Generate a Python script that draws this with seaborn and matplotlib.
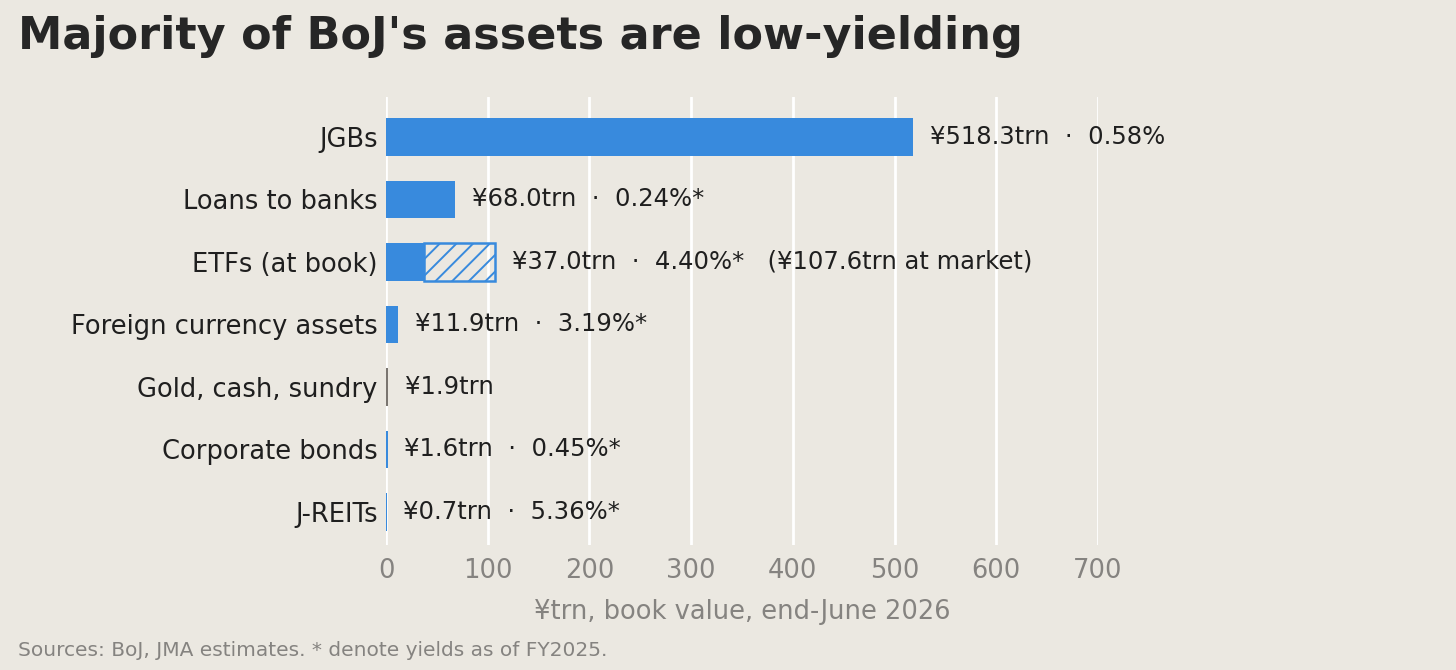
import matplotlib
matplotlib.use("Agg")
import matplotlib.pyplot as plt
import seaborn as sns
import pandas as pd

categories = ["JGBs", "Loans to banks", "ETFs (at book)", "Foreign currency assets",
              "Gold, cash, sundry", "Corporate bonds", "J-REITs"]
book_value = [518.3, 68.0, 37.0, 11.9, 1.9, 1.6, 0.7]
yields = ["0.58%", "0.24%*", "4.40%*", "3.19%*", None, "0.45%*", "5.36%*"]
etf_market = 107.6
x_ticks = [0, 100, 200, 300, 400, 500, 600, 700]

bg = "#EBE8E1"
blue = "#388ADD"
grey_bar = "#7A7570"
grey_txt = "#858380"

sns.set_theme(style="white", rc={"axes.facecolor": bg, "figure.facecolor": bg})
plt.rcParams["font.family"] = ["DejaVu Sans"]

df = pd.DataFrame({"cat": categories, "val": book_value})
colors = [grey_bar if c.startswith("Gold") else blue for c in categories]

fig = plt.figure(figsize=(14.56, 6.7), dpi=100)
ax = fig.add_axes([386 / 1456, 1 - 545 / 670, (1098 - 386) / 1456, (545 - 97) / 670])

sns.barplot(data=df, x="val", y="cat", hue="cat", palette=colors, legend=False,
            width=0.6, ax=ax, edgecolor="none", saturation=1, zorder=3)

# market-value extension of ETFs, hatched
etf_i = categories.index("ETFs (at book)")
plt.rcParams["hatch.color"] = blue
plt.rcParams["hatch.linewidth"] = 1.4
ax.barh(etf_i, etf_market - book_value[etf_i], left=book_value[etf_i], height=0.6,
        facecolor="none", edgecolor=blue, hatch="//", linewidth=1.8, zorder=3)

for i, (v, y) in enumerate(zip(book_value, yields)):
    label = f"¥{v:.1f}trn"
    if y:
        label += f"  ·  {y}"
    end = v
    if i == etf_i:
        label += f"   (¥{etf_market:.1f}trn at market)"
        end = etf_market
    ax.annotate(label, (end, i), xytext=(12, 0), textcoords="offset points",
                va="center", ha="left", fontsize=17.5, color="#1f1f1f",
                annotation_clip=False)

ax.set_xlim(0, 700)
ax.set_ylim(6.53, -0.64)
ax.set_xticks(x_ticks)
ax.tick_params(axis="x", length=0, labelsize=18.5, colors=grey_txt, pad=9)
ax.tick_params(axis="y", length=0, labelsize=18.5, labelcolor="#1f1f1f", pad=6)
ax.grid(axis="x", color="white", linewidth=2, zorder=0)
ax.set_axisbelow(True)
sns.despine(ax=ax, left=True, bottom=True)
ax.set_ylabel("")
ax.set_xlabel("¥trn, book value, end-June 2026", fontsize=18.5, color=grey_txt, labelpad=11)

fig.text(18 / 1456, 1 - 37 / 670, "Majority of BoJ's assets are low-yielding",
         fontsize=32, fontweight="bold", color="#262626", va="center", ha="left")
fig.text(18 / 1456, 1 - 650 / 670, "Sources: BoJ, JMA estimates. * denote yields as of FY2025.",
         fontsize=14.5, color=grey_txt, va="center", ha="left")

fig.savefig("out.png", dpi=100, facecolor=bg)
